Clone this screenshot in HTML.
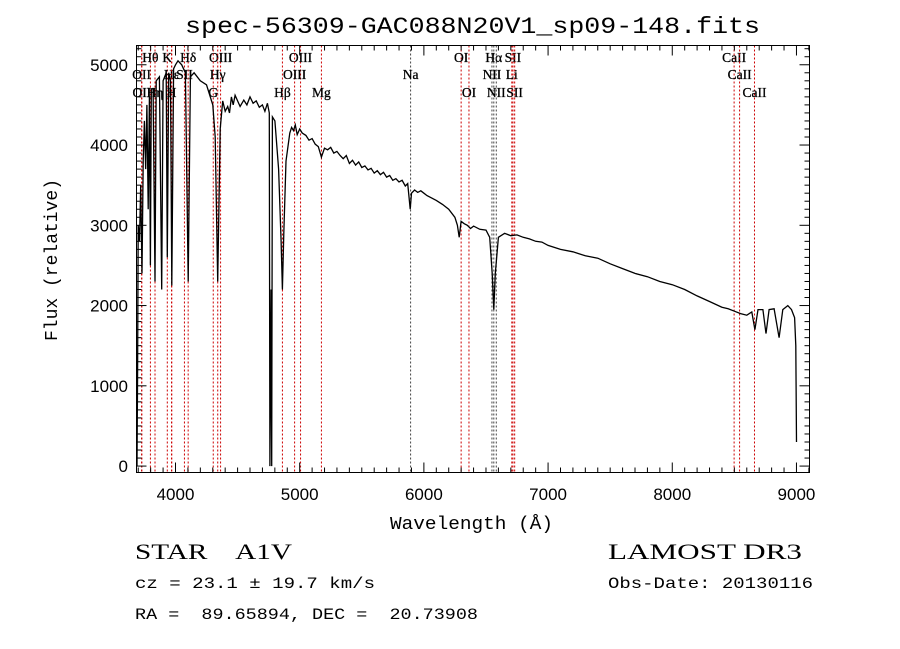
<!DOCTYPE html>
<html><head><meta charset="utf-8">
<style>
body{margin:0;background:#fff;width:900px;height:649px;overflow:hidden}
svg{display:block}
.mono{font-family:"Liberation Mono",monospace}
.serif{font-family:"Liberation Serif",serif}
</style></head>
<body>
<svg id="chart" width="900" height="649" xmlns="http://www.w3.org/2000/svg">
<text class="mono" x="185" y="33" font-size="23" textLength="575" lengthAdjust="spacingAndGlyphs">spec-56309-GAC088N20V1_sp09-148.fits</text>
<g id="lines"></g>
<g id="ticks"></g>
<polyline id="spec" fill="none" stroke="#000" stroke-width="1.3"/>
<rect x="136.5" y="45.5" width="673" height="427" fill="none" stroke="#000" stroke-width="1"/>
<text class="mono" x="390" y="529" font-size="18" textLength="163" lengthAdjust="spacingAndGlyphs">Wavelength (Å)</text>
<text class="mono" transform="translate(57,260) rotate(-90)" font-size="18" text-anchor="middle">Flux (relative)</text>
<text class="serif" x="135" y="559" font-size="22" xml:space="preserve" textLength="157" lengthAdjust="spacingAndGlyphs">STAR    A1V</text>
<text class="serif" x="608" y="559" font-size="22" textLength="194" lengthAdjust="spacingAndGlyphs">LAMOST DR3</text>
<text class="mono" x="135" y="588" font-size="16" textLength="240" lengthAdjust="spacingAndGlyphs">cz = 23.1 ± 19.7 km/s</text>
<text class="mono" x="608" y="588" font-size="16" textLength="205" lengthAdjust="spacingAndGlyphs">Obs-Date: 20130116</text>
<text class="mono" x="135" y="619" font-size="16" xml:space="preserve" textLength="343" lengthAdjust="spacingAndGlyphs">RA =  89.65894, DEC =  20.73908</text>
</svg>
<script>
const wave=[3690,3695,3700,3710,3720,3730,3740,3750,3760,3770,3780,3790,3798,3805,3820,3835,3845,3870,3889,3900,3925,3934,3945,3960,3970,3985,4000,4020,4050,4080,4102,4120,4150,4200,4250,4300,4320,4340,4360,4380,4400,4420,4435,4450,4465,4480,4500,4520,4550,4575,4600,4625,4650,4675,4700,4720,4740,4755,4760,4770,4775,4780,4800,4830,4850,4861,4872,4890,4920,4935,4950,4965,4980,5000,5020,5050,5075,5100,5125,5150,5175,5200,5225,5250,5275,5300,5325,5350,5375,5400,5425,5450,5475,5500,5525,5550,5575,5600,5625,5650,5675,5700,5725,5750,5775,5800,5825,5850,5870,5890,5900,5925,5950,5975,6000,6025,6050,6100,6150,6200,6250,6270,6284,6300,6325,6350,6375,6400,6450,6500,6530,6550,6563,6575,6600,6650,6700,6750,6800,6850,6900,6950,7000,7100,7200,7300,7400,7500,7600,7700,7800,7900,8000,8100,8200,8300,8400,8450,8500,8550,8600,8640,8665,8690,8730,8755,8780,8820,8860,8890,8930,8960,8985,8995,9000];
const flux=[0,1200,3000,2800,3500,2400,3800,4300,3700,4500,3200,4600,2500,4700,4700,2300,4800,4850,2200,4800,4900,2600,4900,4800,2250,4950,5000,5050,5000,4900,2300,4850,4900,4800,4750,4500,4100,2300,4200,4550,4420,4480,4400,4600,4500,4620,4550,4480,4560,4500,4600,4520,4550,4470,4500,4420,4520,4400,0,2200,0,4350,4300,3700,2800,2200,2900,3800,4150,4220,4180,4250,4130,4200,4150,4120,4060,4080,4010,3980,3850,3960,3940,3970,3900,3920,3870,3830,3870,3770,3810,3750,3790,3720,3740,3690,3710,3650,3680,3630,3660,3600,3620,3560,3580,3540,3560,3490,3520,3200,3400,3440,3410,3430,3400,3370,3350,3310,3260,3200,3100,3000,2850,3050,3020,3000,2960,2990,2950,2940,2850,2400,1950,2400,2850,2900,2870,2880,2850,2830,2800,2790,2750,2700,2670,2620,2590,2520,2460,2400,2360,2300,2260,2200,2120,2050,1980,1960,1930,1900,1880,1920,1700,1950,1950,1650,1950,1960,1600,1950,2000,1950,1850,1500,300];
const xTicks=[4000,5000,6000,7000,8000,9000];
const yTicks=[0,1000,2000,3000,4000,5000];
const lineWave=[3798,3934,4102,4363,5007,6300,6563,6717,8498,3727,3970,4072,4340,4959,5893,6548,6708,8542,3729,3835,3968,4304,4861,5175,6363,6583,6731,8662];
const lineName=["Hθ","K","Hδ","OIII","OIII","OI","Hα","SII","CaII","OII","Hε","SII","Hγ","OIII","Na","NII","Li","CaII","OII","Hη","H","G","Hβ","Mg","OI","NII","SII","CaII"];
const lineRow=[0,0,0,0,0,0,0,0,0,1,1,1,1,1,1,1,1,1,2,2,2,2,2,2,2,2,2,2];
const NS="http://www.w3.org/2000/svg";
const X0=136.5,X1=809.5,Y0=472.5,Y1=45.5,WMIN=3686,WMAX=9105,FMIN=-80,FMAX=5240;
function xs(w){return X0+(w-WMIN)/(WMAX-WMIN)*(X1-X0);}
function ys(f){return Y0-(f-FMIN)/(FMAX-FMIN)*(Y0-Y1);}
function mk(tag,attrs,parent){const e=document.createElementNS(NS,tag);for(const k in attrs)e.setAttribute(k,attrs[k]);parent.appendChild(e);return e;}
const spec=document.getElementById('spec');
spec.setAttribute('points',wave.map((w,i)=>xs(w).toFixed(1)+','+Math.min(Y0,ys(flux[i])).toFixed(1)).join(' '));
const lg=document.getElementById('lines');
const rowY=[62,79,97];
lineWave.forEach((w,i)=>{
  const x=xs(w);
  const col=(lineName[i]==="Na"||lineName[i]==="Hα"||lineName[i]==="NII")?"#444":"#c00";
  const l=mk('line',{x1:x,x2:x,y1:Y1,y2:Y0,stroke:col,'stroke-width':1,'stroke-dasharray':'2,2'},lg);
  
  
  const t=mk('text',{x:x,y:rowY[lineRow[i]],'font-size':13.5,'text-anchor':'middle','font-family':'Liberation Serif, serif',stroke:'#000','stroke-width':0.3},lg);
  t.textContent=lineName[i];
  
  
});
const tg=document.getElementById('ticks');
for(let w=3700;w<=9100;w+=100){
  const x=xs(w);const len=(w%1000===0)?10:5;
  mk('line',{x1:x,x2:x,y1:Y0,y2:Y0-len,stroke:'#000'},tg);
  mk('line',{x1:x,x2:x,y1:Y1,y2:Y1+len,stroke:'#000'},tg);
}
for(let f=0;f<=5200;f+=100){
  const y=ys(f);const len=(f%1000===0)?10:5;
  mk('line',{x1:X0,x2:X0+len,y1:y,y2:y,stroke:'#000'},tg);
  mk('line',{x1:X1,x2:X1-len,y1:y,y2:y,stroke:'#000'},tg);
}
xTicks.forEach(w=>{
  const t=mk('text',{x:xs(w),y:500,'font-size':17,'text-anchor':'middle','font-family':'Liberation Sans, sans-serif'},tg);
  t.textContent=w;
  
  
});
yTicks.forEach(f=>{
  const t=mk('text',{x:128,y:ys(f)+6,'font-size':17,'text-anchor':'end','font-family':'Liberation Sans, sans-serif'},tg);
  t.textContent=f;
  
  
});
</script>
</body></html>
